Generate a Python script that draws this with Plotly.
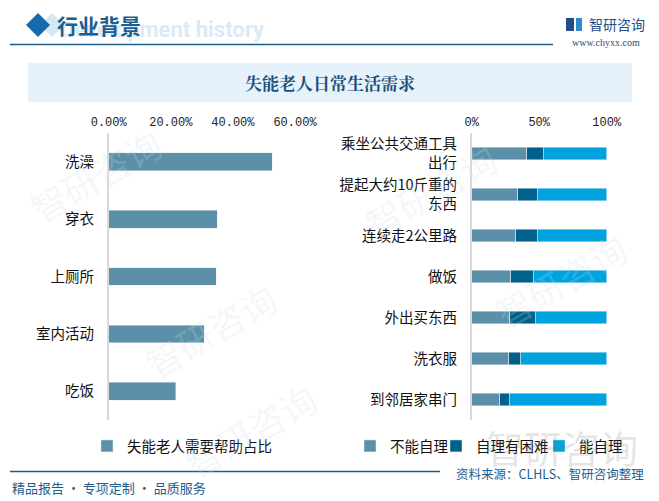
import plotly.graph_objects as go

# the page body keeps its default 8px margin, so the figure is drawn 8px smaller
# and every position below is given in the reference's pixel grid
OFF = 8
W, H = 659 - OFF, 501 - OFF

# left chart: share of disabled elderly needing help
help_items = ["洗澡", "穿衣", "上厕所", "室内活动", "吃饭"]
help_share = [0.526, 0.349, 0.346, 0.307, 0.216]

# right chart: self-care ability of elderly (%)
daily_items = ["乘坐公共交通工具<br>出行", "提起大约10斤重的<br>东西", "连续走2公里路", "做饭",
               "外出买东西", "洗衣服", "到邻居家串门"]
cannot = [40.9, 34.2, 32.8, 29.1, 28.3, 27.6, 20.9]
difficult = [12.5, 14.8, 16.2, 17.0, 19.2, 8.9, 7.4]
can = [46.6, 51.0, 51.0, 53.9, 52.5, 63.5, 71.7]

left_ticks = [0, 0.2, 0.4, 0.6]
left_ticktext = ["0.00%", "20.00%", "40.00%", "60.00%"]
right_ticks = [0, 50, 100]
right_ticktext = ["0%", "50%", "100%"]

C_GREY = "#5B90A8"
C_DARK = "#00628A"
C_BRIGHT = "#00A3DD"
C_HEAD = "#1B5E90"


def px(x):
    return (x - OFF) / W


def py(y):
    return 1 - (y - OFF) / H


fig = go.Figure()

fig.add_trace(go.Bar(y=help_items, x=help_share, orientation="h", width=0.31,
                     marker_color=C_GREY, name="失能老人需要帮助占比",
                     xaxis="x", yaxis="y", legend="legend"))

right_series = [("不能自理", cannot, C_GREY, "legend2"),
                ("自理有困难", difficult, C_DARK, "legend3"),
                ("能自理", can, C_BRIGHT, "legend4")]
for name, vals, col, leg in right_series:
    fig.add_trace(go.Bar(y=daily_items, x=vals, orientation="h", width=0.31,
                         marker_color=col, name=name,
                         xaxis="x2", yaxis="y2", legend=leg))

tickfont = dict(family="Liberation Mono, monospace", size=12, color="#222")
catfont = dict(family="Noto Sans CJK SC", size=14.5, color="#111")
legfont = dict(family="Noto Sans CJK SC", size=14.5, color="#111")
ydom = [py(420), py(133)]


def leg(x):
    return dict(orientation="h", x=px(x), y=py(446), yanchor="middle",
                xanchor="left", bgcolor="rgba(0,0,0,0)", font=legfont,
                borderwidth=0)


def note(x, y, text, font, xanchor="center", **kw):
    return dict(x=px(x), y=py(y), xref="paper", yref="paper", text=text,
                showarrow=False, xanchor=xanchor, yanchor="middle", font=font, **kw)


fig.update_layout(
    width=W, height=H,
    margin=dict(l=0, r=0, t=0, b=0, autoexpand=False),
    paper_bgcolor="white", plot_bgcolor="rgba(0,0,0,0)",
    barmode="stack",
    showlegend=True,
    xaxis=dict(domain=[px(108.7), px(295)], range=[0, 0.6], side="top",
               tickvals=left_ticks, ticktext=left_ticktext, tickfont=tickfont,
               showgrid=False, zeroline=False, showline=False, ticks="",
               ticklabelstandoff=4),
    yaxis=dict(domain=ydom, autorange="reversed", tickfont=catfont,
               showgrid=False, zeroline=False, showline=True,
               linecolor="#D9D9D9", linewidth=1.5, ticks="",
               ticklabelstandoff=10, anchor="x"),
    xaxis2=dict(domain=[px(471.7), px(606.7)], range=[0, 100], side="top",
                anchor="y2", tickvals=right_ticks, ticktext=right_ticktext,
                tickfont=tickfont, showgrid=False, zeroline=False,
                showline=False, ticks="", ticklabelstandoff=4),
    yaxis2=dict(domain=ydom, autorange="reversed", tickfont=catfont,
                showgrid=False, zeroline=False, showline=True,
                linecolor="#D9D9D9", linewidth=1.5, ticks="",
                ticklabelstandoff=10, anchor="x2"),
    legend=leg(87),
    legend2=leg(350),
    legend3=leg(436),
    legend4=leg(539),
)

shapes = []
annotations = []

# faint watermarks in the background
for (wx, wy) in [(95, 175), (210, 330), (430, 190), (560, 280), (250, 430)]:
    annotations.append(note(wx, wy, "智研咨询",
                            dict(family="Noto Sans CJK SC", size=36,
                                 color="rgba(205,222,236,0.22)"),
                            textangle=-30))

# header
shapes.append(dict(type="path", xref="paper", yref="paper",
                   path=f"M {px(40)} {py(25)} L {px(52)} {py(13)} L {px(64)} {py(25)} "
                        f"L {px(52)} {py(37)} Z",
                   fillcolor="#D5E8F6", line_width=0, layer="below"))
shapes.append(dict(type="path", xref="paper", yref="paper",
                   path=f"M {px(26)} {py(25)} L {px(38)} {py(13)} L {px(50)} {py(25)} "
                        f"L {px(38)} {py(37)} Z",
                   fillcolor="#156BAE", line_width=0))
shapes.append(dict(type="line", xref="paper", yref="paper",
                   x0=px(10), x1=px(553), y0=py(44.5), y1=py(44.5),
                   line=dict(color=C_HEAD, width=1.5)))
annotations.append(note(58, 29, "<b>Development history</b>",
                        dict(family="Roboto", size=22, color="#DCEAF6"), "left"))
annotations.append(note(55, 25, "<b>行业背景</b>",
                        dict(family="Noto Sans CJK SC", size=21, color=C_HEAD), "left"))

# logo
shapes.append(dict(type="rect", xref="paper", yref="paper",
                   x0=px(566), x1=px(574), y0=py(31), y1=py(18),
                   fillcolor="#1F4E8C", line_width=0))
shapes.append(dict(type="rect", xref="paper", yref="paper",
                   x0=px(576), x1=px(582), y0=py(31), y1=py(18),
                   fillcolor="#2C8BD0", line_width=0))
annotations.append(note(587, 24, "智研咨询",
                        dict(family="Noto Sans CJK SC", size=14, color="#1F4E8C"), "left"))
annotations.append(note(642, 43, "www.chyxx.com",
                        dict(family="Liberation Serif", size=10, color="#1F4E79"), "right"))

# title box
shapes.append(dict(type="rect", xref="paper", yref="paper",
                   x0=px(28), x1=px(632), y0=py(102), y1=py(63),
                   fillcolor="#E6F2FB", line_width=0, layer="below"))
annotations.append(note(330, 82, "<b>失能老人日常生活需求</b>",
                        dict(family="Noto Serif CJK SC, Noto Sans CJK SC",
                             size=17, color="#1B4F7A")))

# footer
shapes.append(dict(type="line", xref="paper", yref="paper",
                   x0=px(10), x1=px(440), y0=py(471.5), y1=py(471.5),
                   line=dict(color=C_HEAD, width=1.5)))
annotations.append(note(10, 487, "精品报告 · 专项定制 · 品质服务",
                        dict(family="Noto Sans CJK SC", size=13, color=C_HEAD), "left"))
annotations.append(note(646, 473, "资料来源：CLHLS、智研咨询整理",
                        dict(family="Noto Sans CJK SC", size=12.5, color=C_HEAD), "right"))
annotations.append(note(640, 446, "智研咨询",
                        dict(family="Noto Sans CJK SC", size=38,
                             color="rgba(120,120,120,0.2)"), "right"))

fig.update_layout(shapes=shapes, annotations=annotations)

fig.write_html("out.html")
